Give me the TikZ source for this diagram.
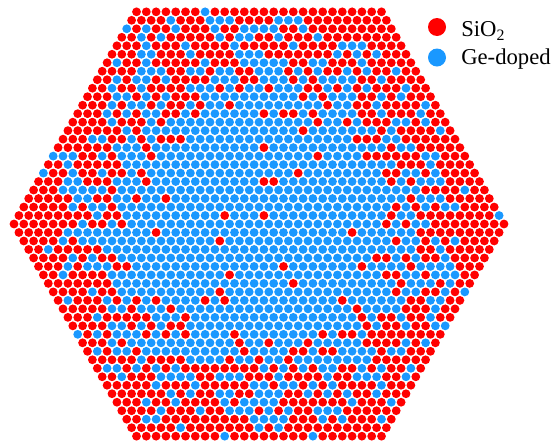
\documentclass[tikz,border=0pt]{standalone}
\usepackage{fontspec}
\setmainfont{Liberation Serif}
\usetikzlibrary{positioning}
\definecolor{sioRed}{HTML}{FF0000}
\definecolor{geBlue}{HTML}{1A98FF}

\begin{document}
\begin{tikzpicture}[x=0.75pt,y=-0.75pt,
  legdot/.style={circle,inner sep=0pt,minimum size=13.5pt},
  legtext/.style={inner sep=0pt,font=\fontsize{17}{20}\selectfont,anchor=base west}]
  \useasboundingbox (0,0) rectangle (552,446);
  \pgfmathsetseed{7}
  % hexagonal stack of rods, 26 per side
  \foreach \j in {-25,...,25} {
    \pgfmathtruncatemacro\nrow{50-abs(\j)}
    \foreach \i in {0,...,\nrow} {
      \pgfmathsetmacro\xx{\i-\nrow/2}
      \pgfmathsetmacro\yy{\j*0.8660254}
      \pgfmathsetmacro\rr{sqrt(\xx*\xx+\yy*\yy)}
      \pgfmathsetmacro\pred{\rr<11 ? 0.04 : (\rr<15 ? 0.04+(\rr-11)*0.1025 : (\rr<20 ? 0.45+(\rr-15)*0.03 : min(0.88,0.6+(\rr-20)*0.14)))}
      \pgfmathtruncatemacro\isred{rnd<\pred}
      \ifnum\isred=1 \def\rodcol{sioRed}\else\def\rodcol{geBlue}\fi
      \fill[\rodcol] (259+\xx*9.8,224+\j*8.487) circle (4.4);
    }
  }
  % legend
  \node[legdot,fill=sioRed] (dotSi) at (437,27) {};
  \node[legdot,fill=geBlue,below=9pt of dotSi] (dotGe) {};
  \node[legtext] (labSi) at (461,36.7) {SiO\textsubscript{2}};
  \node[legtext] (labGe) at (461,64) {Ge-doped};
\end{tikzpicture}
\end{document}
